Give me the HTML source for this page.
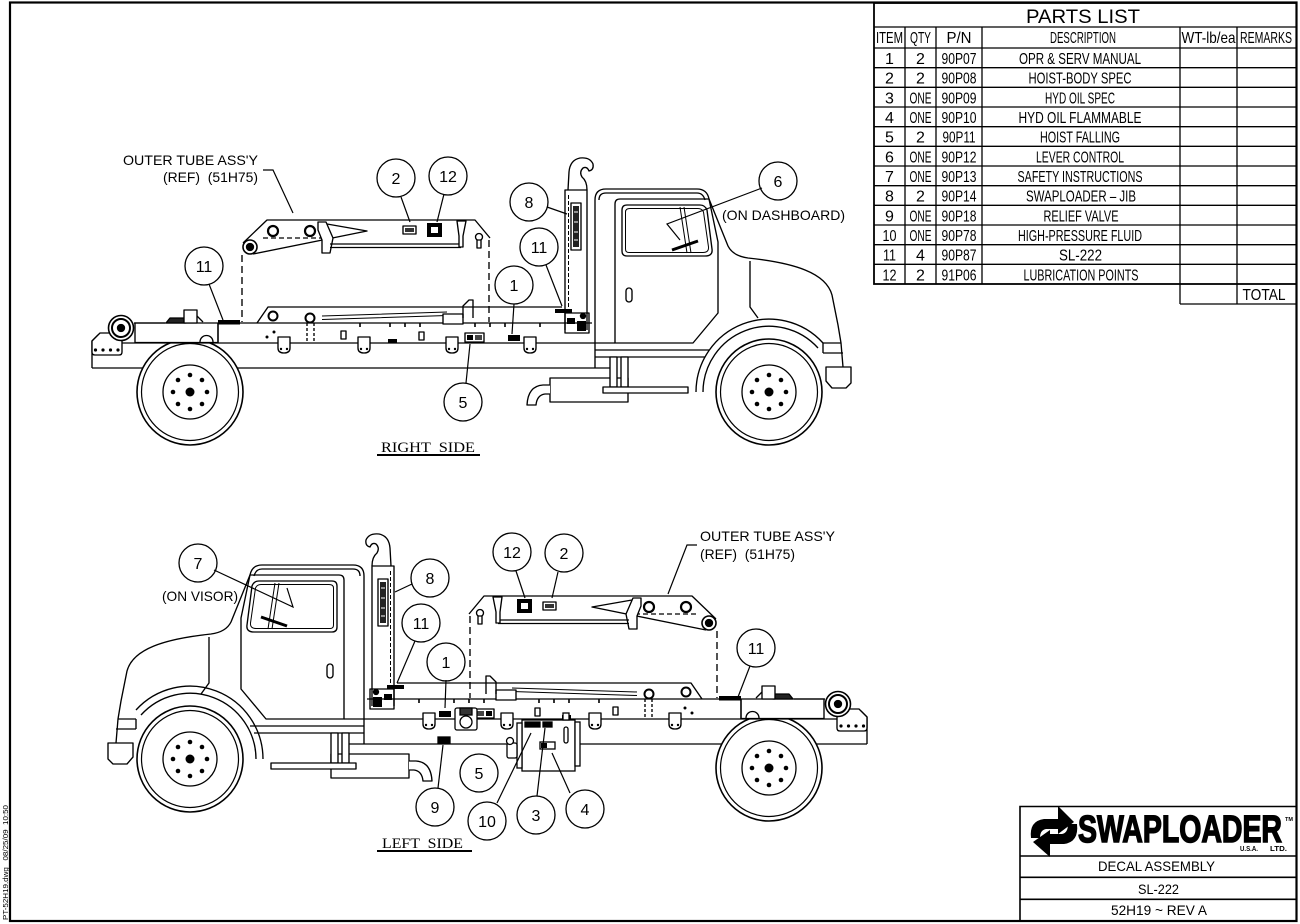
<!DOCTYPE html>
<html><head><meta charset="utf-8">
<style>
html,body{margin:0;padding:0;background:#fff;}
svg{display:block;}
.t{font-family:"Liberation Sans Narrow","Liberation Sans",sans-serif;font-size:16px;fill:#000;text-anchor:middle;}
.a{font-family:"Liberation Sans",sans-serif;font-size:14px;fill:#000;}
.b{font-family:"Liberation Sans",sans-serif;font-size:16px;fill:#000;text-anchor:middle;}
.s{font-family:"Liberation Serif",serif;font-size:15px;fill:#000;}
.tb{font-family:"Liberation Sans",sans-serif;font-size:14px;fill:#000;text-anchor:middle;}
</style></head><body>
<svg width="1300" height="924" viewBox="0 0 1300 924" xmlns="http://www.w3.org/2000/svg">
<defs>
<g id="wheel" fill="none" stroke="#000">
  <circle r="53" stroke-width="1.6" fill="#fff"/>
  <circle r="48.5" stroke-width="1.2"/>
  <circle r="27" stroke-width="1.3"/>
  <g fill="#000" stroke="none">
    <circle cx="17" cy="0" r="2.3"/><circle cx="12" cy="12" r="2.3"/><circle cx="0" cy="17" r="2.3"/><circle cx="-12" cy="12" r="2.3"/>
    <circle cx="-17" cy="0" r="2.3"/><circle cx="-12" cy="-12" r="2.3"/><circle cx="0" cy="-17" r="2.3"/><circle cx="12" cy="-12" r="2.3"/>
    <circle r="4.5"/>
  </g>
</g>

<g id="chassis" fill="none" stroke="#000" stroke-width="1.35" stroke-linejoin="round">
  <path d="M92 368H612"/>
  <use href="#wheel" x="190" y="392"/>
  <!-- frame -->
  <path d="M98 343H595M92 368V341L98 335H108"/>
  <path d="M92 341L100 333H112L122 340V352Q122 355 119 355H95Q92 355 92 352Z" fill="#fff"/>
  <g fill="#000" stroke="none"><circle cx="95.5" cy="350" r="1.6"/><circle cx="103" cy="350" r="1.6"/><circle cx="110.5" cy="350" r="1.6"/><circle cx="118" cy="350" r="1.6"/></g>
  <rect x="135" y="323" width="83" height="19.5" fill="#fff"/>
  <path d="M200 342A6.5 6.5 0 0 1 213 342"/>
  <circle cx="121" cy="328" r="12.5" fill="#fff" stroke-width="1.6"/>
  <circle cx="121" cy="328" r="9" stroke-width="2"/>
  <circle cx="121" cy="328" r="3.5" fill="#000"/>
  <path d="M134 323H165"/>
  <path d="M166 323L170 318H186V323Z" fill="#222"/>
  <rect x="184" y="310" width="13" height="13" fill="#fff"/>
  <path d="M197 316L203 322" />
  <!-- subframe -->
  <path d="M218 323H592M218 323V343"/>
  <!-- hoist lower -->
  <path d="M257 323L268 307H562"/>
  <path d="M322 316L447 312M322 319.5L447 315.5" stroke-width="1"/>
  <circle cx="273" cy="316" r="4.5" stroke-width="2"/>
  <circle cx="310" cy="318" r="4.5" stroke-width="2"/>
  <path d="M307 323V343M314 323V343" stroke-dasharray="3 2"/>
  <rect x="443" y="314" width="20" height="10" fill="#fff"/>
  <path d="M463 318V306L469 300H473V318"/>
  <path d="M390 323V327M405 323V327M420 323V327M475 323V327M490 323V327M505 323V327M540 323V327M360 323V327" stroke-width="1.6"/>
  <!-- hangers -->
  <g fill="#fff">
    <path d="M278 337V348Q278 353 284 353Q290 353 290 348V337Z"/>
    <path d="M358 337V348Q358 353 364 353Q370 353 370 348V337Z"/>
    <path d="M446 337V348Q446 353 452 353Q458 353 458 348V337Z"/>
    <path d="M524 337V348Q524 353 530 353Q536 353 536 348V337Z"/>
  </g>
  <g fill="#000" stroke="none">
    <circle cx="281" cy="349" r="1.2"/><circle cx="287" cy="349" r="1.2"/>
    <circle cx="361" cy="349" r="1.2"/><circle cx="367" cy="349" r="1.2"/>
    <circle cx="449" cy="349" r="1.2"/><circle cx="455" cy="349" r="1.2"/>
    <circle cx="527" cy="349" r="1.2"/><circle cx="533" cy="349" r="1.2"/>
    <circle cx="267" cy="337" r="1.5"/><circle cx="274" cy="332" r="1.5"/>
    <rect x="388" y="339" width="9" height="4"/>
  </g>
  <rect x="341" y="331" width="5" height="8" fill="#fff"/>
  <rect x="419" y="332" width="5" height="8" fill="#fff"/>
  <!-- decals on frame -->
  <rect x="465" y="333" width="19" height="9" fill="#fff"/>
  <rect x="467" y="335" width="6" height="5" fill="#000" stroke="none"/>
  <rect x="475" y="335" width="7" height="5" fill="#444" stroke="none"/>
  <rect x="508" y="335" width="12" height="6" fill="#000" stroke="none"/>
  <rect x="218" y="320" width="22" height="4.5" fill="#000" stroke="none"/>
  <rect x="555" y="309" width="17" height="4" fill="#000" stroke="none"/>
  <!-- upper boom -->
  <path d="M243 243L267 220H475L490 238"/>
  <path d="M253 254L367 231L327 224"/>
  <circle cx="250" cy="247" r="7" fill="#fff" stroke-width="1.6"/>
  <circle cx="250" cy="247" r="3.5" fill="#000"/>
  <circle cx="273" cy="231" r="5" stroke-width="2.2"/>
  <circle cx="310" cy="231" r="5" stroke-width="2.2"/>
  <path d="M263 238H323" stroke-dasharray="5 3"/>
  <path d="M318 222H326L333 238L330 253H322V240L318 230Z" fill="#fff"/>
  <path d="M330 244H461M330 247.5H461"/>
  <path d="M457 221L466 221L463 236L463 247L459 247L459 236Z" fill="#fff"/>
  <circle cx="479" cy="237" r="3.5" fill="#fff"/>
  <rect x="477" y="240" width="4" height="8" fill="#fff"/>
  <rect x="403" y="226" width="13" height="8" fill="#fff"/>
  <rect x="405" y="228" width="9" height="4" fill="#333" stroke="none"/>
  <rect x="427" y="223" width="15" height="14" fill="#000" stroke="none"/>
  <rect x="431" y="227" width="7" height="6" fill="#fff" stroke="none"/>
  <path d="M242 255V322M489 240V322" stroke-dasharray="7 4"/>
  <!-- jib -->
  <path d="M565 330V190H587V330"/>
  <path d="M568 190L569 172Q570 160 580 158Q590 157 593 164Q594 170 589 171Q587 166 583 168Q579 172 582 177Q587 181 587 190"/>
  <path d="M568.5 195V310" stroke-dasharray="4 2" stroke-width="1"/>
  <rect x="571" y="203" width="10" height="47" fill="#fff"/>
  <rect x="573" y="206" width="6" height="41" fill="#222" stroke="none"/>
  <path d="M574 212H578M574 222H578M574 232H578M574 240H578" stroke="#fff" stroke-width="1"/>
  <rect x="565" y="313" width="24" height="20"/>
  <rect x="567" y="318" width="8" height="6" fill="#000" stroke="none"/>
  <rect x="577" y="321" width="9" height="10" fill="#000" stroke="none"/>
  <circle cx="583" cy="316" r="2.5" fill="#000"/>
</g>

<g id="cab" fill="none" stroke="#000" stroke-width="1.35" stroke-linejoin="round">
  <path d="M595 368V200Q595 189 606 189H697Q707 189 709 199L728 246Q733 256 748 258C795 263 826 273 832 295L838 325L841 343L843 367"/>
  <path d="M599 200Q599 193 606 193H697Q703 193 705 200"/>
  <path d="M615 343V204Q615 199 620 199H709L718 242V313L693 343Z"/>
  <path d="M595 343H615"/>
  <path d="M627 205H700Q705 205 707 210L712 249Q713 256 705 256H627Q622 256 622 251V210Q622 205 627 205Z"/>
  <path d="M630 208.5H698Q702 208.5 703.5 212L708.5 247Q709 252.5 703 252.5H629Q625.5 252.5 625.5 249V212Q625.5 208.5 630 208.5Z" stroke-width="1"/>
  <path d="M680 207L687 253M684 207L691 253" stroke-width="1"/>
  <path d="M672 250L698 241" stroke-width="3"/>
  <rect x="626" y="288" width="6" height="14" rx="3"/>
  <path d="M750 261V307L758 318"/>
  <path d="M823 343H841M823 353H843M823 343V353"/>
  <path d="M826 367H851V383L846 388H832L826 381Z" fill="#fff"/>
  <path d="M595 350H709M595 357H705"/>
  <rect x="550" y="378" width="78" height="24" fill="#fff"/>
  <rect x="610" y="357" width="7" height="30" fill="#fff"/>
  <rect x="621" y="357" width="7" height="30" fill="#fff"/>
  <rect x="603" y="387" width="85" height="6" fill="#fff"/>
  <path d="M550 385H543Q528 386 527 405H536Q537 395 545 394H550" fill="#fff"/>
</g>

<g id="front" fill="none" stroke="#000" stroke-width="1.35">
  <use href="#wheel" x="769" y="392"/>
  <path d="M696 392A73 73 0 0 1 823 343"/>
  <path d="M703 392A66 66 0 0 1 818 348"/>
</g>
</defs>

<!-- page border -->
<rect x="10" y="2.5" width="1286.5" height="918.5" fill="none" stroke="#000" stroke-width="2.2"/>

<!-- vertical stamp -->
<text transform="translate(8,920) rotate(-90)" font-family="Liberation Sans, sans-serif" font-size="7" textLength="115" lengthAdjust="spacingAndGlyphs" style="white-space:pre">PT-52H19.dwg   08/25/09  10:50</text>

<!-- PARTS LIST -->
<g fill="none" stroke="#000" stroke-width="1.3">
  <rect x="874" y="3" width="422.5" height="281" stroke-width="1.8"/>
  <path d="M874 27H1296.5M874 48H1296.5"/>
  <path d="M874 67.7H1296.5M874 87.3H1296.5M874 107H1296.5M874 126.7H1296.5M874 146.3H1296.5M874 166H1296.5M874 185.7H1296.5M874 205.3H1296.5M874 225H1296.5M874 244.7H1296.5M874 264.3H1296.5"/>
  <path d="M905 27V284M936 27V284M982 27V284M1180 27V304M1237 27V304M1296.5 284V304M1180 304H1296.5" />
</g>
<text x="1083" y="23" font-family="Liberation Sans, sans-serif" font-size="19" text-anchor="middle" textLength="114" lengthAdjust="spacingAndGlyphs">PARTS LIST</text>
<g class="t">
  <text x="889.5" y="43" textLength="27" lengthAdjust="spacingAndGlyphs">ITEM</text>
  <text x="920.5" y="43" textLength="21" lengthAdjust="spacingAndGlyphs">QTY</text>
  <text x="959" y="43" textLength="25" lengthAdjust="spacingAndGlyphs">P/N</text>
  <text x="1083" y="43" textLength="66" lengthAdjust="spacingAndGlyphs">DESCRIPTION</text>
  <text x="1208.5" y="43" textLength="54" lengthAdjust="spacingAndGlyphs">WT-lb/ea</text>
  <text x="1266" y="43" textLength="52" lengthAdjust="spacingAndGlyphs">REMARKS</text>

  <text x="889.5" y="64">1</text><text x="920.5" y="64">2</text><text x="959" y="64" textLength="35" lengthAdjust="spacingAndGlyphs">90P07</text><text x="1080" y="64" textLength="122" lengthAdjust="spacingAndGlyphs">OPR &amp; SERV MANUAL</text>
  <text x="889.5" y="83.7">2</text><text x="920.5" y="83.7">2</text><text x="959" y="83.7" textLength="35" lengthAdjust="spacingAndGlyphs">90P08</text><text x="1080" y="83.7" textLength="103" lengthAdjust="spacingAndGlyphs">HOIST-BODY SPEC</text>
  <text x="889.5" y="103.3">3</text><text x="920.5" y="103.3" textLength="22" lengthAdjust="spacingAndGlyphs">ONE</text><text x="959" y="103.3" textLength="35" lengthAdjust="spacingAndGlyphs">90P09</text><text x="1080" y="103.3" textLength="70" lengthAdjust="spacingAndGlyphs">HYD OIL SPEC</text>
  <text x="889.5" y="123">4</text><text x="920.5" y="123" textLength="22" lengthAdjust="spacingAndGlyphs">ONE</text><text x="959" y="123" textLength="35" lengthAdjust="spacingAndGlyphs">90P10</text><text x="1080" y="123" textLength="123" lengthAdjust="spacingAndGlyphs">HYD OIL FLAMMABLE</text>
  <text x="889.5" y="142.7">5</text><text x="920.5" y="142.7">2</text><text x="959" y="142.7" textLength="33" lengthAdjust="spacingAndGlyphs">90P11</text><text x="1080" y="142.7" textLength="80" lengthAdjust="spacingAndGlyphs">HOIST FALLING</text>
  <text x="889.5" y="162.3">6</text><text x="920.5" y="162.3" textLength="22" lengthAdjust="spacingAndGlyphs">ONE</text><text x="959" y="162.3" textLength="35" lengthAdjust="spacingAndGlyphs">90P12</text><text x="1080" y="162.3" textLength="88" lengthAdjust="spacingAndGlyphs">LEVER CONTROL</text>
  <text x="889.5" y="182">7</text><text x="920.5" y="182" textLength="22" lengthAdjust="spacingAndGlyphs">ONE</text><text x="959" y="182" textLength="35" lengthAdjust="spacingAndGlyphs">90P13</text><text x="1080" y="182" textLength="125" lengthAdjust="spacingAndGlyphs">SAFETY INSTRUCTIONS</text>
  <text x="889.5" y="201.7">8</text><text x="920.5" y="201.7">2</text><text x="959" y="201.7" textLength="35" lengthAdjust="spacingAndGlyphs">90P14</text><text x="1081" y="201.7" textLength="110" lengthAdjust="spacingAndGlyphs">SWAPLOADER – JIB</text>
  <text x="889.5" y="221.3">9</text><text x="920.5" y="221.3" textLength="22" lengthAdjust="spacingAndGlyphs">ONE</text><text x="959" y="221.3" textLength="35" lengthAdjust="spacingAndGlyphs">90P18</text><text x="1081" y="221.3" textLength="75" lengthAdjust="spacingAndGlyphs">RELIEF VALVE</text>
  <text x="889.5" y="241" textLength="14" lengthAdjust="spacingAndGlyphs">10</text><text x="920.5" y="241" textLength="22" lengthAdjust="spacingAndGlyphs">ONE</text><text x="959" y="241" textLength="35" lengthAdjust="spacingAndGlyphs">90P78</text><text x="1080" y="241" textLength="124" lengthAdjust="spacingAndGlyphs">HIGH-PRESSURE FLUID</text>
  <text x="889.5" y="260.7" textLength="13" lengthAdjust="spacingAndGlyphs">11</text><text x="920.5" y="260.7">4</text><text x="959" y="260.7" textLength="35" lengthAdjust="spacingAndGlyphs">90P87</text><text x="1080.5" y="260.7" textLength="43" lengthAdjust="spacingAndGlyphs">SL-222</text>
  <text x="889.5" y="280.3" textLength="14" lengthAdjust="spacingAndGlyphs">12</text><text x="920.5" y="280.3">2</text><text x="959" y="280.3" textLength="35" lengthAdjust="spacingAndGlyphs">91P06</text><text x="1081" y="280.3" textLength="115" lengthAdjust="spacingAndGlyphs">LUBRICATION POINTS</text>
  <text x="1264" y="300" textLength="43" lengthAdjust="spacingAndGlyphs">TOTAL</text>
</g>

<!-- TITLE BLOCK -->
<g fill="none" stroke="#000" stroke-width="1.6">
  <path d="M1020 921V806.5H1297M1020 856H1297M1020 877.3H1297M1020 899.3H1297"/>
</g>
<g fill="#000">
  <path d="M1031 838Q1029 821 1044 819L1058 819L1058 806L1074 822L1058 834L1058 829L1046 829Q1040 830 1040 838Z"/>
  <path d="M1077 824Q1079 842 1064 844L1050 844L1050 857L1033 842L1050 830L1050 834L1062 834Q1068 833 1068 824Z"/>
</g>
<text x="1078" y="842" font-family="Liberation Sans, sans-serif" font-weight="bold" font-size="38" stroke="#000" stroke-width="1.5" textLength="204" lengthAdjust="spacingAndGlyphs">SWAPLOADER</text>
<text x="1285" y="821" font-family="Liberation Sans, sans-serif" font-weight="bold" font-size="5.5">TM</text>
<text x="1240" y="851" font-family="Liberation Sans, sans-serif" font-weight="bold" font-size="7" textLength="18" lengthAdjust="spacingAndGlyphs">U.S.A.</text>
<text x="1270" y="851" font-family="Liberation Sans, sans-serif" font-weight="bold" font-size="7" textLength="17" lengthAdjust="spacingAndGlyphs">LTD.</text>
<text class="tb" x="1156.5" y="871" textLength="117" lengthAdjust="spacingAndGlyphs">DECAL ASSEMBLY</text>
<text class="tb" x="1158.5" y="894" textLength="41" lengthAdjust="spacingAndGlyphs">SL-222</text>
<text class="tb" x="1159" y="915" textLength="96" lengthAdjust="spacingAndGlyphs">52H19 ~ REV A</text>

<!-- TOP TRUCK (RIGHT SIDE) -->
<use href="#chassis"/>
<use href="#cab"/>
<use href="#front"/>

<!-- BOTTOM TRUCK (LEFT SIDE) -->
<g transform="translate(959,376) scale(-1,1)"><use href="#chassis"/></g>
<g transform="translate(959,376) scale(-1,1)"><use href="#cab"/></g>
<g transform="translate(959,367) scale(-1,1)"><use href="#front"/></g>

<!-- bottom-only components -->
<g fill="none" stroke="#000" stroke-width="1.3">
  <rect x="522" y="720" width="53" height="51" fill="#fff"/>
  <rect x="517" y="723" width="5" height="45" fill="#fff"/>
  <rect x="575" y="722" width="5" height="44" fill="#fff"/>
  <rect x="563" y="713" width="6" height="7" fill="#fff"/>
  <rect x="564" y="727" width="4" height="16" rx="2"/>
  <rect x="507" y="743" width="10" height="15" rx="2" fill="#fff"/>
  <circle cx="510" cy="741" r="3.5" fill="#fff"/>
  <rect x="525" y="722" width="15" height="5" fill="#000"/>
  <rect x="543" y="722" width="9" height="5" fill="#000"/>
  <rect x="540" y="742" width="15" height="7" fill="#fff"/>
  <rect x="541" y="743" width="6" height="5" fill="#000" stroke="none"/>
  <rect x="438" y="737" width="12" height="6" fill="#000"/>
  <rect x="455" y="708" width="22" height="22" rx="2" fill="#fff"/>
  <circle cx="466" cy="722" r="6"/>
  <rect x="460" y="708" width="12" height="7" fill="#333"/>
</g>

<!-- LEADERS -->
<g fill="none" stroke="#000" stroke-width="1.2">
  <path d="M401 197L410 222"/>
  <path d="M444 194L437 222"/>
  <path d="M263 170H273L293 213"/>
  <path d="M209 284L223 320"/>
  <path d="M547 207L567 214"/>
  <path d="M546 265L562 306"/>
  <path d="M514 304L512 334"/>
  <path d="M762 188L667 224L680 240"/>
  <path d="M466 383L470 344"/>
  <path d="M214 570L293 607L287 588"/>
  <path d="M412 584L395 592"/>
  <path d="M415 641L397 683"/>
  <path d="M446 680L445 708"/>
  <path d="M516 571L525 598"/>
  <path d="M558 572L552 598"/>
  <path d="M697 545H687L668 594"/>
  <path d="M750 666L738 697"/>
  <path d="M438 788L443 745"/>
  <path d="M497 803L531 733"/>
  <path d="M537 796L545 728"/>
  <path d="M570 793L552 753"/>
</g>

<!-- BALLOONS -->
<g fill="none" stroke="#000" stroke-width="1.3">
  <circle cx="396" cy="178" r="19"/><circle cx="448" cy="176" r="19"/>
  <circle cx="529" cy="202" r="19"/><circle cx="539" cy="247" r="19"/>
  <circle cx="514" cy="285" r="19"/><circle cx="778" cy="181" r="19"/>
  <circle cx="204" cy="266" r="19"/><circle cx="463" cy="402" r="19"/>
  <circle cx="198" cy="563" r="19"/><circle cx="430" cy="578" r="19"/>
  <circle cx="421" cy="623" r="19"/><circle cx="446" cy="662" r="19"/>
  <circle cx="512" cy="552" r="19"/><circle cx="564" cy="553" r="19"/>
  <circle cx="756" cy="648" r="19"/><circle cx="479" cy="773" r="19"/>
  <circle cx="435" cy="807" r="19"/><circle cx="487" cy="821" r="19"/>
  <circle cx="536" cy="815" r="19"/><circle cx="585" cy="809" r="19"/>
</g>
<g class="b">
  <text x="396" y="184">2</text><text x="448" y="182">12</text>
  <text x="529" y="208">8</text><text x="539" y="253">11</text>
  <text x="514" y="291">1</text><text x="778" y="187">6</text>
  <text x="204" y="272">11</text><text x="463" y="408">5</text>
  <text x="198" y="569">7</text><text x="430" y="584">8</text>
  <text x="421" y="629">11</text><text x="446" y="668">1</text>
  <text x="512" y="558">12</text><text x="564" y="559">2</text>
  <text x="756" y="654">11</text><text x="479" y="779">5</text>
  <text x="435" y="813">9</text><text x="487" y="827">10</text>
  <text x="536" y="821">3</text><text x="585" y="815">4</text>
</g>

<!-- LABELS -->
<g class="a">
  <text x="123" y="165" textLength="135" lengthAdjust="spacingAndGlyphs">OUTER TUBE ASS'Y</text>
  <text x="163" y="182" textLength="95" lengthAdjust="spacingAndGlyphs" style="white-space:pre">(REF)  (51H75)</text>
  <text x="722" y="220" textLength="123" lengthAdjust="spacingAndGlyphs">(ON DASHBOARD)</text>
  <text x="700" y="541" textLength="135" lengthAdjust="spacingAndGlyphs">OUTER TUBE ASS'Y</text>
  <text x="700" y="559" textLength="95" lengthAdjust="spacingAndGlyphs" style="white-space:pre">(REF)  (51H75)</text>
  <text x="162" y="601" textLength="76" lengthAdjust="spacingAndGlyphs">(ON VISOR)</text>
</g>
<text class="s" x="381" y="452" textLength="94" lengthAdjust="spacingAndGlyphs" style="white-space:pre">RIGHT  SIDE</text>
<path d="M377 455H480" stroke="#000" stroke-width="2"/>
<text class="s" x="382" y="848" textLength="81" lengthAdjust="spacingAndGlyphs" style="white-space:pre">LEFT  SIDE</text>
<path d="M377 851H472" stroke="#000" stroke-width="2"/>
</svg>
</body></html>
